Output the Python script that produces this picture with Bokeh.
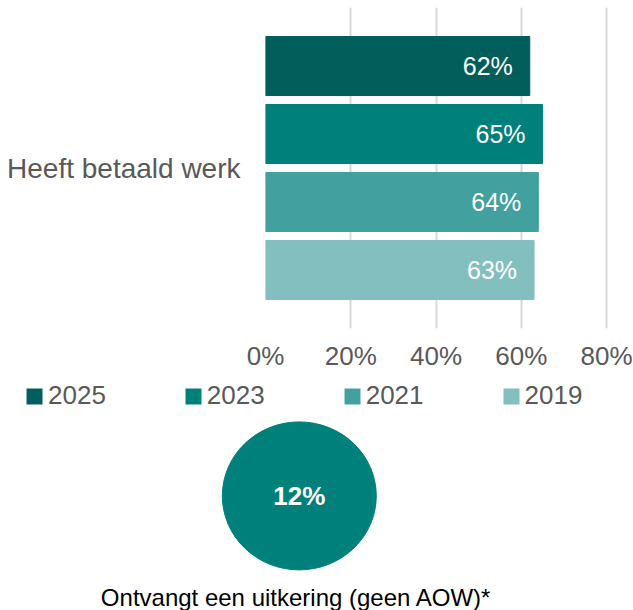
from bokeh.plotting import figure
from bokeh.models import (Range1d, FactorRange, FixedTicker, PrintfTickFormatter,
                          Legend, LegendItem, ColumnDataSource)
from bokeh.transform import dodge
from bokeh.layouts import column
from bokeh.core.properties import value
from bokeh.embed import file_html
from bokeh.resources import INLINE

# ---- data ----
category = "Heeft betaald werk"
years = ["2025", "2023", "2021", "2019"]
shares = [62, 65, 64, 63]
colors = ["#025e5b", "#00807a", "#42a09e", "#84bfbf"]
ticks = [0, 20, 40, 60, 80]
benefit_label = "Ontvangt een uitkering (geen AOW)*"
benefit_share = [12]
benefit_color = "#00807a"

FONT = "Liberation Sans"
GREY = "#595959"
W = 633
H1 = 375
H2 = 235
FRAME_L = 265
FRAME_T = 7
FRAME_H = 321
PX_PER_PCT = 4.2625

p = figure(width=W, height=H1,
           y_range=FactorRange(factors=[category]),
           x_range=Range1d(0, (W - FRAME_L) / PX_PER_PCT),
           output_backend="svg", toolbar_location=None,
           min_border_left=FRAME_L, min_border_right=0,
           min_border_top=FRAME_T, min_border_bottom=H1 - FRAME_T - FRAME_H)
p.outline_line_color = None
p.background_fill_color = None
p.border_fill_color = None

pitch = 68 / FRAME_H
bar_h = 59 / FRAME_H
n = len(years)
for i, (yr, v, c) in enumerate(zip(years, shares, colors)):
    off = ((n - 1) / 2 - i) * pitch
    src = ColumnDataSource(dict(y=[category], x=[v], lab=[f"{v}%"]))
    p.hbar(y=dodge("y", off, range=p.y_range), right="x", left=0,
           height=bar_h, color=c, source=src)
    p.text(x="x", y=dodge("y", off, range=p.y_range), text="lab", source=src,
           x_offset=-17, text_align="right", text_baseline="middle",
           text_color="white", text_font=value(FONT), text_font_size="25px")

p.xgrid.ticker = FixedTicker(ticks=ticks)
p.xgrid.grid_line_color = "#d9d9d9"
p.xgrid.grid_line_width = 2
p.ygrid.grid_line_color = None

xa = p.xaxis[0]
xa.ticker = FixedTicker(ticks=ticks)
xa.formatter = PrintfTickFormatter(format="%d%%")
xa.major_label_text_font = FONT
xa.major_label_text_font_size = "26px"
xa.major_label_text_color = GREY
xa.major_tick_line_color = None
xa.minor_tick_line_color = None
xa.axis_line_color = None
xa.major_tick_in = 0
xa.major_tick_out = 0
xa.major_label_standoff = 12

ya = p.yaxis[0]
ya.major_label_text_font = FONT
ya.major_label_text_font_size = "28px"
ya.major_label_text_color = GREY
ya.major_tick_line_color = None
ya.axis_line_color = None
ya.major_tick_in = 0
ya.major_tick_out = 0
ya.major_label_standoff = 25

# ---- bottom: legend + circle ----
cx, cy = 298.8, 120.4
q = figure(width=W, height=H2,
           x_range=Range1d(-cx, W - cx), y_range=Range1d(-(H2 - cy), cy),
           x_axis_type=None, y_axis_type=None,
           output_backend="svg", toolbar_location=None,
           min_border=0)
q.outline_line_color = None
q.grid.grid_line_color = None
q.border_fill_color = None

# zero-extent bars that only carry the legend swatches
items = []
for yr, c in zip(years, colors):
    r = q.hbar(y=[0], right=[0], left=[0], height=0, color=c, line_width=0)
    items.append(LegendItem(label=yr, renderers=[r]))

LEG_H = 30
legend = Legend(items=items, orientation="horizontal",
                location=(24, H2 - 21 - LEG_H / 2),
                glyph_width=20, glyph_height=20, label_standoff=4, spacing=77,
                label_height=LEG_H,
                padding=0, margin=0, border_line_color=None,
                background_fill_alpha=0,
                label_text_font=FONT, label_text_font_size="26px",
                label_text_color=GREY)
q.add_layout(legend, "center")

qsrc = ColumnDataSource(dict(x=[0], y=[0], lab=[f"{v}%" for v in benefit_share],
                             name=[benefit_label]))
q.ellipse(x="x", y="y", width=154, height=148, color=benefit_color, source=qsrc)
q.text(x="x", y="y", text="lab", source=qsrc, text_align="center",
       text_baseline="middle", text_color="white", text_font=value(FONT),
       text_font_size="26px", text_font_style="bold")
q.text(x="x", y="y", text="name", source=qsrc, text_align="center",
       text_baseline="alphabetic", y_offset=102, x_offset=-3,
       text_color="#000000", text_font=value(FONT), text_font_size="24px")

layout = column(column(p), column(q), spacing=0)
open("out.html", "w").write(file_html(layout, INLINE))
